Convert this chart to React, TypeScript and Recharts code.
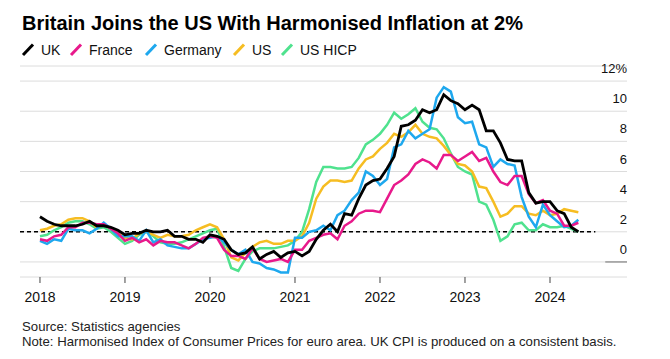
import { LineChart, Line, XAxis, YAxis, CartesianGrid, ReferenceLine } from 'recharts';

// monthly, Jan 2018 .. May 2024
const uk = [
  3.0, 2.7, 2.5, 2.4, 2.4, 2.4, 2.5, 2.7, 2.4, 2.4, 2.3, 2.1,
  1.8, 1.9, 1.9, 2.1, 2.0, 2.0, 2.1, 1.7, 1.7, 1.5, 1.5, 1.3,
  1.8, 1.7, 1.5, 0.8, 0.5, 0.6, 1.0, 0.2, 0.5, 0.7, 0.3, 0.6,
  0.7, 0.4, 0.7, 1.5, 2.1, 2.5, 2.0, 3.2, 3.1, 4.2, 5.1, 5.4,
  5.5, 6.2, 7.0, 9.0, 9.1, 9.4, 10.1, 9.9, 10.1, 11.1, 10.7, 10.5,
  10.1, 10.4, 10.1, 8.7, 8.7, 7.9, 6.8, 6.7, 6.7, 4.6, 3.9, 4.0,
  4.0, 3.4, 3.2, 2.3, 2.0,
];
const france = [
  1.5, 1.4, 1.7, 1.8, 2.3, 2.3, 2.6, 2.6, 2.5, 2.5, 2.2, 1.9,
  1.4, 1.6, 1.3, 1.5, 1.1, 1.4, 1.3, 1.3, 1.1, 0.9, 1.2, 1.6,
  1.7, 1.6, 0.8, 0.4, 0.4, 0.2, 0.9, 0.2, 0.0, 0.1, 0.2, 0.0,
  0.8, 0.8, 1.4, 1.6, 1.8, 1.9, 1.5, 2.4, 2.7, 3.2, 3.4, 3.4,
  3.3, 4.2, 5.1, 5.4, 5.8, 6.5, 6.8, 6.6, 6.2, 7.1, 7.1, 6.7,
  7.0, 7.3, 6.7, 6.9, 6.0, 5.3, 5.1, 5.7, 5.7, 4.5, 3.9, 4.1,
  3.4, 3.2, 2.4, 2.4, 2.6,
];
const germany = [
  1.4, 1.2, 1.5, 1.4, 2.2, 2.1, 2.1, 1.9, 2.2, 2.6, 2.2, 1.7,
  1.7, 1.7, 1.4, 2.1, 1.3, 1.5, 1.1, 1.0, 0.9, 0.9, 1.2, 1.5,
  1.6, 1.7, 1.3, 0.8, 0.5, 0.8, 0.0, -0.1, -0.4, -0.5, -0.7, -0.7,
  1.6, 1.6, 2.0, 2.1, 2.4, 2.1, 3.1, 3.4, 4.1, 4.6, 6.0, 5.7,
  5.1, 5.5, 7.6, 7.8, 8.7, 8.2, 8.5, 8.8, 10.9, 11.6, 11.3, 9.6,
  9.2, 9.3, 7.8, 7.6, 6.3, 6.8, 6.5, 6.4, 4.3, 3.0, 2.3, 3.8,
  3.1, 2.7, 2.3, 2.4, 2.8,
];
const us = [
  2.1, 2.2, 2.4, 2.5, 2.8, 2.9, 2.9, 2.7, 2.3, 2.5, 2.2, 1.9,
  1.6, 1.5, 1.9, 2.0, 1.8, 1.6, 1.8, 1.7, 1.7, 1.8, 2.1, 2.3,
  2.5, 2.3, 1.5, 0.3, 0.1, 0.6, 1.0, 1.3, 1.4, 1.2, 1.2, 1.4,
  1.4, 1.7, 2.6, 4.2, 5.0, 5.4, 5.4, 5.3, 5.4, 6.2, 6.8, 7.0,
  7.5, 7.9, 8.5, 8.3, 8.6, 9.1, 8.5, 8.3, 8.2, 7.7, 7.1, 6.5,
  6.4, 6.0, 5.0, 4.9, 4.0, 3.0, 3.2, 3.7, 3.7, 3.2, 3.1, 3.4,
  3.1, 3.2, 3.5, 3.4, 3.3,
];
const usHicp = [
  1.7, 1.8, 2.1, 2.3, 2.6, 2.7, 2.7, 2.5, 2.2, 2.3, 2.0, 1.6,
  1.2, 1.4, 1.8, 2.0, 1.7, 1.3, 1.2, 1.2, 1.3, 1.5, 1.7, 1.9,
  2.1, 2.2, 1.0, -0.4, -0.6, 0.2, 0.7, 0.9, 0.9, 0.9, 1.0, 1.1,
  1.4, 2.0, 3.5, 5.3, 6.3, 6.3, 6.2, 6.2, 6.3, 6.9, 7.8, 8.1,
  8.5, 9.1, 9.9, 9.5, 9.8, 10.2, 9.3, 8.9, 8.8, 8.2, 7.2, 6.3,
  6.0, 5.8, 4.0, 3.8, 2.8, 1.4, 1.7, 2.5, 2.6, 2.1, 2.1, 2.5,
  2.3, 2.3, 2.4, 2.2, 2.0,
];

const seriesNames = ['UK', 'France', 'Germany', 'US', 'US HICP'];
const seriesKeys = ['uk', 'france', 'germany', 'us', 'usHicp'];
const seriesColors = ['#000000', '#e8198b', '#1ea8ee', '#f6bd22', '#4fe28e'];
const years = [2018, 2019, 2020, 2021, 2022, 2023, 2024];
const yTicks = [0, 2, 4, 6, 8, 10, 12];

const data = uk.map((v, i) => ({
  i,
  uk: v,
  france: france[i],
  germany: germany[i],
  us: us[i],
  usHicp: usHicp[i],
}));

const W = 670;
const H = 359;
const Y_AXIS_W = 40;
const M = { top: 66, right: 3, bottom: 52, left: 20 };
const PLOT_RIGHT = W - M.right - Y_AXIS_W;
const FONT = '"Liberation Sans", Arial, Helvetica, sans-serif';

const YTick = (props: any) => {
  const { y, payload } = props;
  return (
    <text x={PLOT_RIGHT} y={y - 8} textAnchor="end" fontSize={13} fill="#111" fontFamily={FONT}>
      {payload.value === 12 ? '12%' : payload.value}
    </text>
  );
};

// legend x positions (icon start)
const legendX = [23, 71, 146, 234, 282];

export default function App() {
  // draw order: green under, black on top
  const order = [4, 3, 2, 1, 0];
  return (
    <div style={{ position: 'absolute', left: 0, top: 0, width: W, height: H, background: '#fff', fontFamily: FONT }}>
      <LineChart width={W} height={H} data={data} margin={M} style={{ position: 'absolute', left: 0, top: 0 }}>
        <CartesianGrid vertical={false} stroke="#dcdcdc" strokeWidth={1} />
        <XAxis
          dataKey="i"
          type="number"
          domain={[-2.82, 82.87]}
          ticks={years.map((y) => (y - 2018) * 12)}
          tickFormatter={(v) => String(2018 + v / 12)}
          axisLine={false}
          tickLine={{ stroke: '#444' }}
          tickSize={6}
          tickMargin={9}
          height={30}
          tick={{ fontSize: 14, fill: '#111', fontFamily: FONT }}
          allowDataOverflow
        />
        <YAxis
          orientation="right"
          width={Y_AXIS_W}
          domain={[-1, 13]}
          ticks={yTicks}
          axisLine={false}
          tickLine={false}
          tick={YTick}
          allowDataOverflow
        />
        <ReferenceLine
          segment={[{ x: 79.8, y: 0 }, { x: 82.87, y: 0 }]}
          stroke="#999"
          strokeWidth={1.5}
        />
        <ReferenceLine
          segment={[{ x: -2.82, y: 2 }, { x: 78.4, y: 2 }]}
          stroke="#000"
          strokeWidth={1.4}
          strokeDasharray="4 3"
        />
        {order.map((k) => (
          <Line
            key={seriesKeys[k]}
            dataKey={seriesKeys[k]}
            stroke={seriesColors[k]}
            strokeWidth={k === 0 ? 2.8 : 2.5}
            dot={false}
            type="linear"
            isAnimationActive={false}
          />
        ))}
      </LineChart>
      <svg width={W} height={H} style={{ position: 'absolute', left: 0, top: 0, pointerEvents: 'none' }}>
        <text x={22} y={30} fontSize={20} fontWeight="bold" fill="#000" fontFamily={FONT}>
          Britain Joins the US With Harmonised Inflation at 2%
        </text>
        {seriesNames.map((name, k) => (
          <g key={name}>
            <line x1={legendX[k]} y1={55} x2={legendX[k] + 10} y2={44.5} stroke={seriesColors[k]} strokeWidth={3} />
            <text x={legendX[k] + 18} y={55} fontSize={14} fill="#111" fontFamily={FONT}>
              {name}
            </text>
          </g>
        ))}
        <text x={22} y={331} fontSize={13.2} fill="#222" fontFamily={FONT}>
          Source: Statistics agencies
        </text>
        <text x={22} y={346} fontSize={13.2} fill="#222" fontFamily={FONT}>
          Note: Harmonised Index of Consumer Prices for euro area. UK CPI is produced on a consistent basis.
        </text>
      </svg>
    </div>
  );
}
